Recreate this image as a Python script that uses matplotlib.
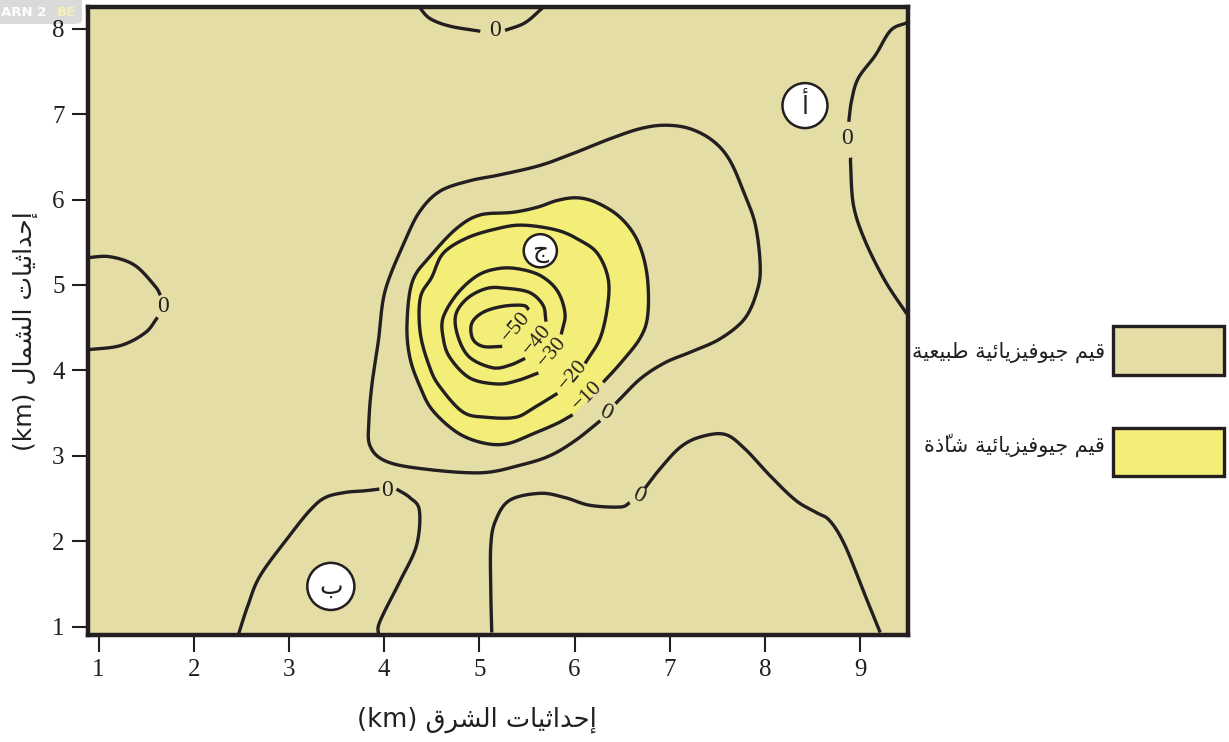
import numpy as np
import matplotlib
matplotlib.use("Agg")
import matplotlib.pyplot as plt
from matplotlib.patches import Rectangle, FancyBboxPatch

W, H = 1229, 742
DARK = "#231F20"
TAN = "#E4DEA6"
YELLOW = "#F2EE78"
SERIF = "Liberation Serif"
ARABIC = "DejaVu Sans"

# ---- tick labels ----
x_ticks = [1, 2, 3, 4, 5, 6, 7, 8, 9]
y_ticks = [1, 2, 3, 4, 5, 6, 7, 8]

# ---- text ----
x_title = "إحداثيات الشرق"
y_title = "إحداثيات الشمال"
unit = "(km)"
legend_natural = "قيم جيوفيزيائية طبيعية"
legend_anomal = "قيم جيوفيزيائية شاذّة"

# ---- contours (east km, north km) ----
zero_main_x = [6.43, 6.69, 6.95, 7.21, 7.53, 7.79, 7.92, 7.95, 7.90, 7.79, 7.63, 7.45, 7.21, 6.95, 6.69, 6.37, 6.01, 5.64, 5.22, 4.90, 4.59, 4.38, 4.22, 4.01, 3.94, 3.87, 3.84, 3.85, 4.01, 4.38, 5.01, 5.43, 5.74, 6.01, 6.27]
zero_main_y = [3.61, 3.90, 4.09, 4.21, 4.37, 4.61, 4.94, 5.23, 5.70, 6.05, 6.46, 6.69, 6.83, 6.87, 6.83, 6.71, 6.55, 6.40, 6.29, 6.22, 6.10, 5.87, 5.52, 4.93, 4.35, 3.82, 3.41, 3.12, 2.94, 2.85, 2.80, 2.89, 3.00, 3.18, 3.41]

m10_x = [6.30, 6.48, 6.69, 6.77, 6.76, 6.66, 6.48, 6.24, 6.03, 5.82, 5.61, 5.35, 5.01, 4.77, 4.51, 4.30, 4.24, 4.27, 4.38, 4.51, 4.77, 5.04, 5.29, 5.57, 5.82, 5.98]
m10_y = [3.86, 4.08, 4.38, 4.66, 5.13, 5.52, 5.79, 5.96, 6.02, 5.99, 5.91, 5.85, 5.82, 5.67, 5.37, 5.05, 4.55, 4.15, 3.80, 3.53, 3.27, 3.15, 3.14, 3.26, 3.38, 3.48]

m20_x = [6.11, 6.27, 6.35, 6.35, 6.24, 6.06, 5.82, 5.46, 5.19, 4.87, 4.62, 4.50, 4.38, 4.38, 4.48, 4.59, 4.83, 5.08, 5.38, 5.57, 5.82]
m20_y = [4.08, 4.38, 4.78, 5.09, 5.37, 5.52, 5.64, 5.70, 5.66, 5.55, 5.37, 5.09, 4.85, 4.43, 4.03, 3.80, 3.51, 3.45, 3.45, 3.56, 3.73]

m30_x = [5.86, 5.90, 5.82, 5.64, 5.40, 5.19, 4.98, 4.77, 4.62, 4.62, 4.69, 4.90, 5.19, 5.40, 5.62]
m30_y = [4.42, 4.66, 4.93, 5.11, 5.19, 5.19, 5.11, 4.90, 4.62, 4.38, 4.15, 3.91, 3.84, 3.88, 3.97]

m40_x = [5.70, 5.67, 5.53, 5.29, 5.08, 4.87, 4.75, 4.78, 4.90, 5.14, 5.32, 5.48]
m40_y = [4.57, 4.76, 4.91, 4.96, 4.96, 4.84, 4.64, 4.38, 4.15, 4.03, 4.06, 4.14]

m50_x = [5.52, 5.46, 5.25, 5.04, 4.92, 4.93, 5.04, 5.24]
m50_y = [4.71, 4.76, 4.75, 4.68, 4.55, 4.37, 4.28, 4.28]

top_a_x = [4.37, 4.48, 4.69, 5.01]
top_a_y = [8.25, 8.12, 8.03, 7.97]
top_b_x = [5.27, 5.48, 5.67]
top_b_y = [7.98, 8.07, 8.25]

right_a_x = [9.49, 9.32, 9.16, 8.98, 8.91, 8.88]
right_a_y = [8.07, 7.98, 7.69, 7.42, 7.16, 6.91]
right_b_x = [8.90, 8.90, 8.93, 9.05, 9.26, 9.49]
right_b_y = [6.49, 6.40, 5.93, 5.52, 5.05, 4.66]

left_a_x = [0.88, 1.12, 1.38, 1.59, 1.65]
left_a_y = [5.32, 5.33, 5.23, 4.99, 4.88]
left_b_x = [1.62, 1.49, 1.23, 0.88]
left_b_y = [4.62, 4.44, 4.29, 4.24]

low_left_a_x = [2.47, 2.57, 2.70, 3.01, 3.22, 3.38, 3.59, 3.80, 3.95]
low_left_a_y = [0.91, 1.25, 1.60, 2.07, 2.36, 2.51, 2.57, 2.59, 2.61]
low_left_b_x = [4.13, 4.27, 4.37, 4.34, 4.17, 4.01, 3.94, 3.94]
low_left_b_y = [2.61, 2.51, 2.36, 1.95, 1.54, 1.19, 1.01, 0.91]

low_mid_a_x = [5.13, 5.12, 5.12, 5.17, 5.32, 5.64, 5.90, 6.16, 6.48, 6.58]
low_mid_a_y = [0.93, 1.42, 1.95, 2.24, 2.48, 2.56, 2.51, 2.42, 2.40, 2.45]
low_mid_b_x = [6.74, 6.90, 7.11, 7.32, 7.58, 7.79, 8.05, 8.32, 8.53, 8.68, 8.84, 9.05, 9.21]
low_mid_b_y = [2.62, 2.85, 3.10, 3.22, 3.25, 3.08, 2.77, 2.48, 2.34, 2.24, 1.95, 1.37, 0.93]

# ---- contour labels ----
label_text = ["0", "0", "0", "0", "0", "0", "\u221210", "\u221220", "\u221230", "\u221240", "\u221250"]
label_x = [5.16, 8.86, 1.68, 4.03, 6.67, 6.33, 6.14, 5.99, 5.77, 5.61, 5.39]
label_y = [7.98, 6.71, 4.75, 2.59, 2.53, 3.51, 3.70, 3.94, 4.21, 4.35, 4.50]
label_rot = [0, 0, 0, 0, -25, -25, 45, 50, 50, 50, 50]

# ---- site markers ----
site_text = ["أ", "ب", "ج"]
site_x = [8.42, 3.44, 5.64]
site_y = [7.10, 1.47, 5.40]
site_size = [1050, 1150, 570]


FORMS = {
    "ا": (0xFE8D, 0xFE8E, None, None), "أ": (0xFE83, 0xFE84, None, None),
    "إ": (0xFE87, 0xFE88, None, None), "ئ": (0xFE89, 0xFE8A, 0xFE8B, 0xFE8C),
    "ب": (0xFE8F, 0xFE90, 0xFE91, 0xFE92), "ة": (0xFE93, 0xFE94, None, None),
    "ت": (0xFE95, 0xFE96, 0xFE97, 0xFE98), "ث": (0xFE99, 0xFE9A, 0xFE9B, 0xFE9C),
    "ج": (0xFE9D, 0xFE9E, 0xFE9F, 0xFEA0), "ح": (0xFEA1, 0xFEA2, 0xFEA3, 0xFEA4),
    "د": (0xFEA9, 0xFEAA, None, None), "ذ": (0xFEAB, 0xFEAC, None, None),
    "ر": (0xFEAD, 0xFEAE, None, None), "ز": (0xFEAF, 0xFEB0, None, None),
    "ش": (0xFEB5, 0xFEB6, 0xFEB7, 0xFEB8), "ط": (0xFEC1, 0xFEC2, 0xFEC3, 0xFEC4),
    "ع": (0xFEC9, 0xFECA, 0xFECB, 0xFECC), "ف": (0xFED1, 0xFED2, 0xFED3, 0xFED4),
    "ق": (0xFED5, 0xFED6, 0xFED7, 0xFED8), "ل": (0xFEDD, 0xFEDE, 0xFEDF, 0xFEE0),
    "م": (0xFEE1, 0xFEE2, 0xFEE3, 0xFEE4), "و": (0xFEED, 0xFEEE, None, None),
    "ي": (0xFEF1, 0xFEF2, 0xFEF3, 0xFEF4),
}
MARK = "\u0651"


def shape(text):
    """Arabic text to visual-order presentation forms (matplotlib has no shaping)."""
    clusters = []
    for ch in text:
        if ch == MARK and clusters:
            clusters[-1][1] += ch
        else:
            clusters.append([ch, ""])
    out = []
    for i, (ch, mark) in enumerate(clusters):
        if ch not in FORMS:
            out.append(ch + mark)
            continue
        prev = clusters[i - 1][0] if i else ""
        nxt = clusters[i + 1][0] if i + 1 < len(clusters) else ""
        join_prev = prev in FORMS and FORMS[prev][2] is not None
        join_next = nxt in FORMS and FORMS[ch][2] is not None
        if join_prev and join_next:
            form = FORMS[ch][3]
        elif join_prev:
            form = FORMS[ch][1]
        elif join_next:
            form = FORMS[ch][2]
        else:
            form = FORMS[ch][0]
        out.append(chr(form) + mark)
    return "".join(reversed(out))


def smooth(xs, ys, closed=False, n=12):
    """Catmull-Rom rounding of a traced line so that it has no corners."""
    p = np.column_stack([xs, ys]).astype(float)
    if closed:
        p = np.vstack([p, p[0]])
    q = np.vstack([2 * p[0] - p[1], p, 2 * p[-1] - p[-2]])
    if closed:
        q[0], q[-1] = p[-2], p[1]
    t = np.linspace(0, 1, n, endpoint=False)[:, None]
    segs = []
    for i in range(1, len(q) - 2):
        a, b, c, d = q[i - 1], q[i], q[i + 1], q[i + 2]
        segs.append(0.5 * (2 * b + (c - a) * t + (2 * a - 5 * b + 4 * c - d) * t ** 2
                           + (3 * b - a - 3 * c + d) * t ** 3))
    segs.append(p[-1:])
    s = np.vstack(segs)
    return s[:, 0], s[:, 1]


fig = plt.figure(figsize=(W / 100, H / 100), dpi=100, facecolor="white")
L, R, T, B = 87.5, 907.5, 6.5, 634.5
ax = fig.add_axes([L / W, 1 - B / H, (R - L) / W, (B - T) / H])
ax.set_xlim(0.884, 9.497)
ax.set_ylim(0.907, 8.26)
ax.set_facecolor(TAN)

line_kw = dict(color=DARK, lw=2.4, solid_capstyle="butt", solid_joinstyle="round", zorder=3)

fx, fy = smooth(m10_x, m10_y, closed=True)
ax.fill(fx, fy, color=YELLOW, lw=0, zorder=1)

for xs, ys in [(zero_main_x, zero_main_y), (m10_x, m10_y), (m20_x, m20_y), (m30_x, m30_y),
               (m40_x, m40_y), (m50_x, m50_y), (top_a_x, top_a_y), (top_b_x, top_b_y),
               (right_a_x, right_a_y), (right_b_x, right_b_y), (left_a_x, left_a_y),
               (left_b_x, left_b_y), (low_left_a_x, low_left_a_y), (low_left_b_x, low_left_b_y),
               (low_mid_a_x, low_mid_a_y), (low_mid_b_x, low_mid_b_y)]:
    sx, sy = smooth(xs, ys)
    ax.plot(sx, sy, **line_kw)

for t, x, y, r in zip(label_text, label_x, label_y, label_rot):
    ax.text(x, y, t, rotation=r, rotation_mode="anchor", ha="center", va="center",
            family=SERIF, fontsize=17 if t == "0" else 15.5, color=DARK, zorder=4)

ax.scatter(site_x, site_y, s=site_size, facecolor="white", edgecolor=DARK, linewidth=1.8, zorder=5)
for t, x, y in zip(site_text, site_x, site_y):
    ax.text(x, y, shape(t), ha="center", va="center", family=ARABIC, fontsize=18, color=DARK, zorder=6)

for s in ax.spines.values():
    s.set_linewidth(3.2)
    s.set_color(DARK)
    s.set_zorder(7)
ax.set_xticks(x_ticks)
ax.set_yticks(y_ticks)
ax.tick_params(axis="x", direction="out", length=12, width=1.5, color=DARK, labelcolor=DARK,
               labelsize=18, pad=6)
ax.tick_params(axis="y", direction="out", length=11.5, width=1.5, color=DARK, labelcolor=DARK,
               labelsize=18, pad=5)
for lab in ax.get_xticklabels() + ax.get_yticklabels():
    lab.set_family(SERIF)

fig.text(477 / W, 1 - 720 / H, unit + " " + shape(x_title), ha="center", va="center",
         family=ARABIC, fontsize=18.5, color=DARK)
fig.text(25 / W, 1 - 331 / H, unit + " " + shape(y_title), ha="center", va="center", rotation=90,
         family=ARABIC, fontsize=18, color=DARK)

for y0, y1, col, txt, ty in [(326, 375, TAN, legend_natural, 352), (428, 476, YELLOW, legend_anomal, 445)]:
    fig.add_artist(Rectangle((1113 / W, 1 - y1 / H), 111 / W, (y1 - y0) / H, transform=fig.transFigure,
                             facecolor=col, edgecolor=DARK, linewidth=2.4))
    fig.text(1105 / W, 1 - ty / H, shape(txt), ha="right", va="center", family=ARABIC, fontsize=15, color=DARK)

# faint site watermark clipped by the top-left corner
fig.add_artist(FancyBboxPatch((-10 / W, 1 - 24 / H), 92 / W, 34 / H, transform=fig.transFigure,
                              boxstyle="round,pad=0,rounding_size=0.006", facecolor="#DADADA",
                              edgecolor="none", zorder=0))
fig.text(1 / W, 1 - 13 / H, "ARN 2", ha="left", va="center", family="DejaVu Sans", weight="bold",
         fontsize=9.5, color="white")
fig.text(57 / W, 1 - 13 / H, "BE", ha="left", va="center", family="DejaVu Sans", weight="bold",
         fontsize=9.5, color="#F4F1B8")

fig.savefig("out.png", dpi=100)
